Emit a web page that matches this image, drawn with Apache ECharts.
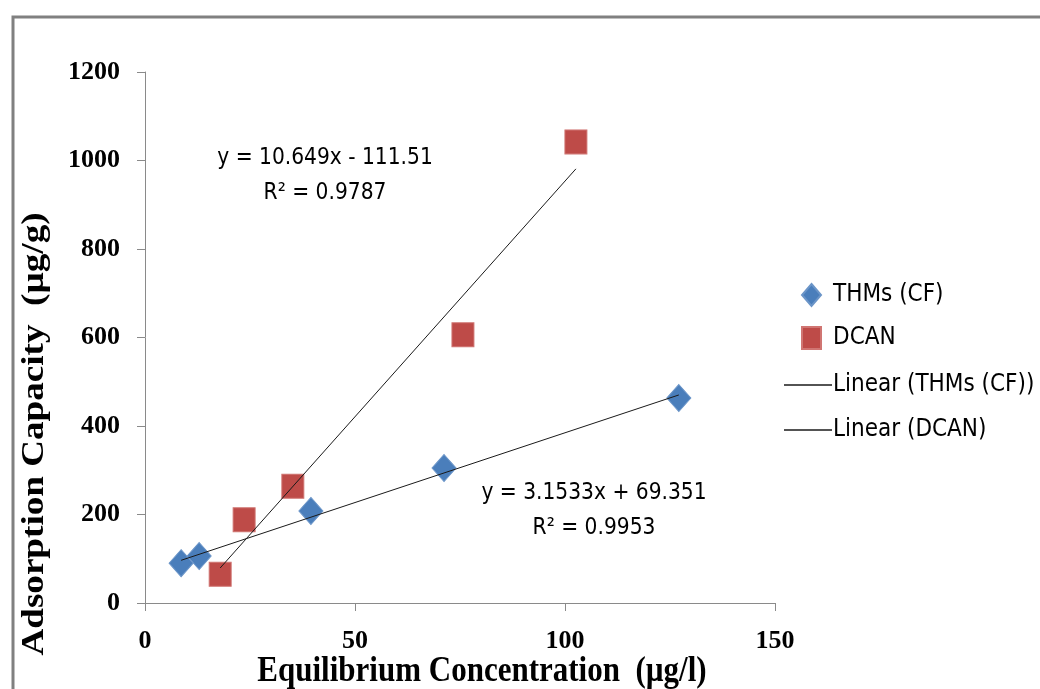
<!DOCTYPE html>
<html>
<head>
<meta charset="utf-8">
<script src="https://cdn.jsdelivr.net/npm/echarts@6/dist/echarts.min.js"></script>
<style>
  html, body { margin: 0; padding: 0; background: #fff; }
  #chart { width: 1040px; height: 689px; }
</style>
</head>
<body>
<div id="chart"></div>
<script>
// Equilibrium concentration (µg/l) and adsorption capacity (µg/g)
const thmsX = [8.6, 12.9, 39.5, 71.2, 127.1];
const thmsY = [90, 106, 208, 305, 463];
const dcanX = [17.9, 23.6, 35.2, 75.7, 102.6];
const dcanY = [65, 188, 264, 606, 1042];

// Linear trend coefficients [slope, intercept] and R²
const thmsFit = [3.1533, 69.351];
const thmsR2 = '0.9953';
const dcanFit = [10.649, -111.51];
const dcanR2 = '0.9787';

const seriesNames = ['THMs (CF)', 'DCAN', 'Linear (THMs (CF))', 'Linear (DCAN)'];
const xTicks = [0, 50, 100, 150];
const yTicks = [0, 200, 400, 600, 800, 1000, 1200];

const pairs = (xs, ys) => xs.map((x, i) => [x, ys[i]]);
const trend = (xs, fit) => {
  const lo = Math.min(...xs), hi = Math.max(...xs);
  return [[lo, fit[0] * lo + fit[1]], [hi, fit[0] * hi + fit[1]]];
};
const eqText = (fit, r2) =>
  'y = ' + fit[0] + 'x ' + (fit[1] < 0 ? '- ' + (-fit[1]) : '+ ' + fit[1]) + '\nR² = ' + r2;

const serif = "'Liberation Serif', 'Times New Roman', serif";
const narrow = "'Liberation Sans Narrow', 'DejaVu Sans Condensed', 'Liberation Sans', sans-serif";

const chart = echarts.init(document.getElementById('chart'), null, { renderer: 'canvas' });

chart.setOption({
  animation: false,
  backgroundColor: '#fff',
  grid: { left: 145, right: 265, top: 72, bottom: 86 },
  xAxis: {
    type: 'value',
    min: xTicks[0], max: xTicks[xTicks.length - 1], interval: 50,
    axisLine: { lineStyle: { color: '#8a8a8a', width: 1 } },
    axisTick: { show: true, length: 8, lineStyle: { color: '#8a8a8a' } },
    splitLine: { show: false },
    axisLabel: {
      margin: 25, color: '#000', fontFamily: serif, fontWeight: 'bold', fontSize: 26,
      formatter: v => String(v)
    }
  },
  yAxis: {
    type: 'value',
    min: yTicks[0], max: yTicks[yTicks.length - 1], interval: 200,
    axisLine: { show: true, lineStyle: { color: '#8a8a8a', width: 1 } },
    axisTick: { show: true, length: 8, lineStyle: { color: '#8a8a8a' } },
    splitLine: { show: false },
    axisLabel: {
      margin: 25, color: '#000', fontFamily: serif, fontWeight: 'bold', fontSize: 26,
      formatter: v => String(v)
    }
  },
  legend: [
    {
      orient: 'vertical', left: 796, top: 278,
      itemWidth: 19, itemHeight: 22, itemGap: 19,
      data: [
        { name: seriesNames[0], icon: 'diamond' },
        { name: seriesNames[1], icon: 'rect' }
      ],
      textStyle: { fontFamily: narrow, fontSize: 24, lineHeight: 24, color: '#000', padding: [0, 0, 0, 7] }
    },
    {
      orient: 'vertical', left: 779, top: 368,
      itemWidth: 48, itemHeight: 1.3, itemGap: 21,
      data: [
        { name: seriesNames[2], icon: 'rect' },
        { name: seriesNames[3], icon: 'rect' }
      ],
      textStyle: { fontFamily: narrow, fontSize: 24, lineHeight: 24, color: '#000', padding: [0, 0, 0, -4] }
    }
  ],
  series: [
    {
      name: seriesNames[0], type: 'scatter', symbol: 'diamond', symbolSize: [24, 27],
      itemStyle: { color: '#4a7ebb', borderColor: '#6b95c8', borderWidth: 1, opacity: 1 },
      data: pairs(thmsX, thmsY), z: 3
    },
    {
      name: seriesNames[1], type: 'scatter', symbol: 'rect', symbolSize: [22, 24],
      itemStyle: { color: '#be4b48', borderColor: '#d07572', borderWidth: 1, opacity: 1 },
      data: pairs(dcanX, dcanY), z: 3
    },
    {
      name: seriesNames[2], type: 'line', symbol: 'none',
      lineStyle: { color: '#1a1a1a', width: 1 }, itemStyle: { color: '#1a1a1a' },
      data: trend(thmsX, thmsFit), z: 4
    },
    {
      name: seriesNames[3], type: 'line', symbol: 'none',
      lineStyle: { color: '#1a1a1a', width: 1 }, itemStyle: { color: '#1a1a1a' },
      data: trend(dcanX, dcanFit), z: 4
    }
  ],
  graphic: [
    {
      type: 'rect', silent: true,
      shape: { x: 13, y: 17, width: 1200, height: 900 },
      style: { fill: 'none', stroke: '#808080', lineWidth: 3 }
    },
    {
      type: 'text', x: 325, y: 176,
      style: {
        text: eqText(dcanFit, dcanR2), fontFamily: narrow, fontSize: 22.5, lineHeight: 35,
        fill: '#000', align: 'center', verticalAlign: 'middle'
      }
    },
    {
      type: 'text', x: 594, y: 511,
      style: {
        text: eqText(thmsFit, thmsR2), fontFamily: narrow, fontSize: 22.5, lineHeight: 35,
        fill: '#000', align: 'center', verticalAlign: 'middle'
      }
    },
    {
      type: 'text', x: 482, y: 672, scaleY: 1.15,
      style: {
        text: 'Equilibrium Concentration  (µg/l)', fontFamily: serif, fontWeight: 'bold',
        fontSize: 31, fill: '#000', align: 'center', verticalAlign: 'middle'
      }
    },
    {
      type: 'text', x: 35, y: 434, rotation: Math.PI / 2, scaleX: 1.16,
      style: {
        text: 'Adsorption Capacity  (µg/g)', fontFamily: serif, fontWeight: 'bold',
        fontSize: 32, fill: '#000', align: 'center', verticalAlign: 'middle'
      }
    }
  ]
});
</script>
</body>
</html>
